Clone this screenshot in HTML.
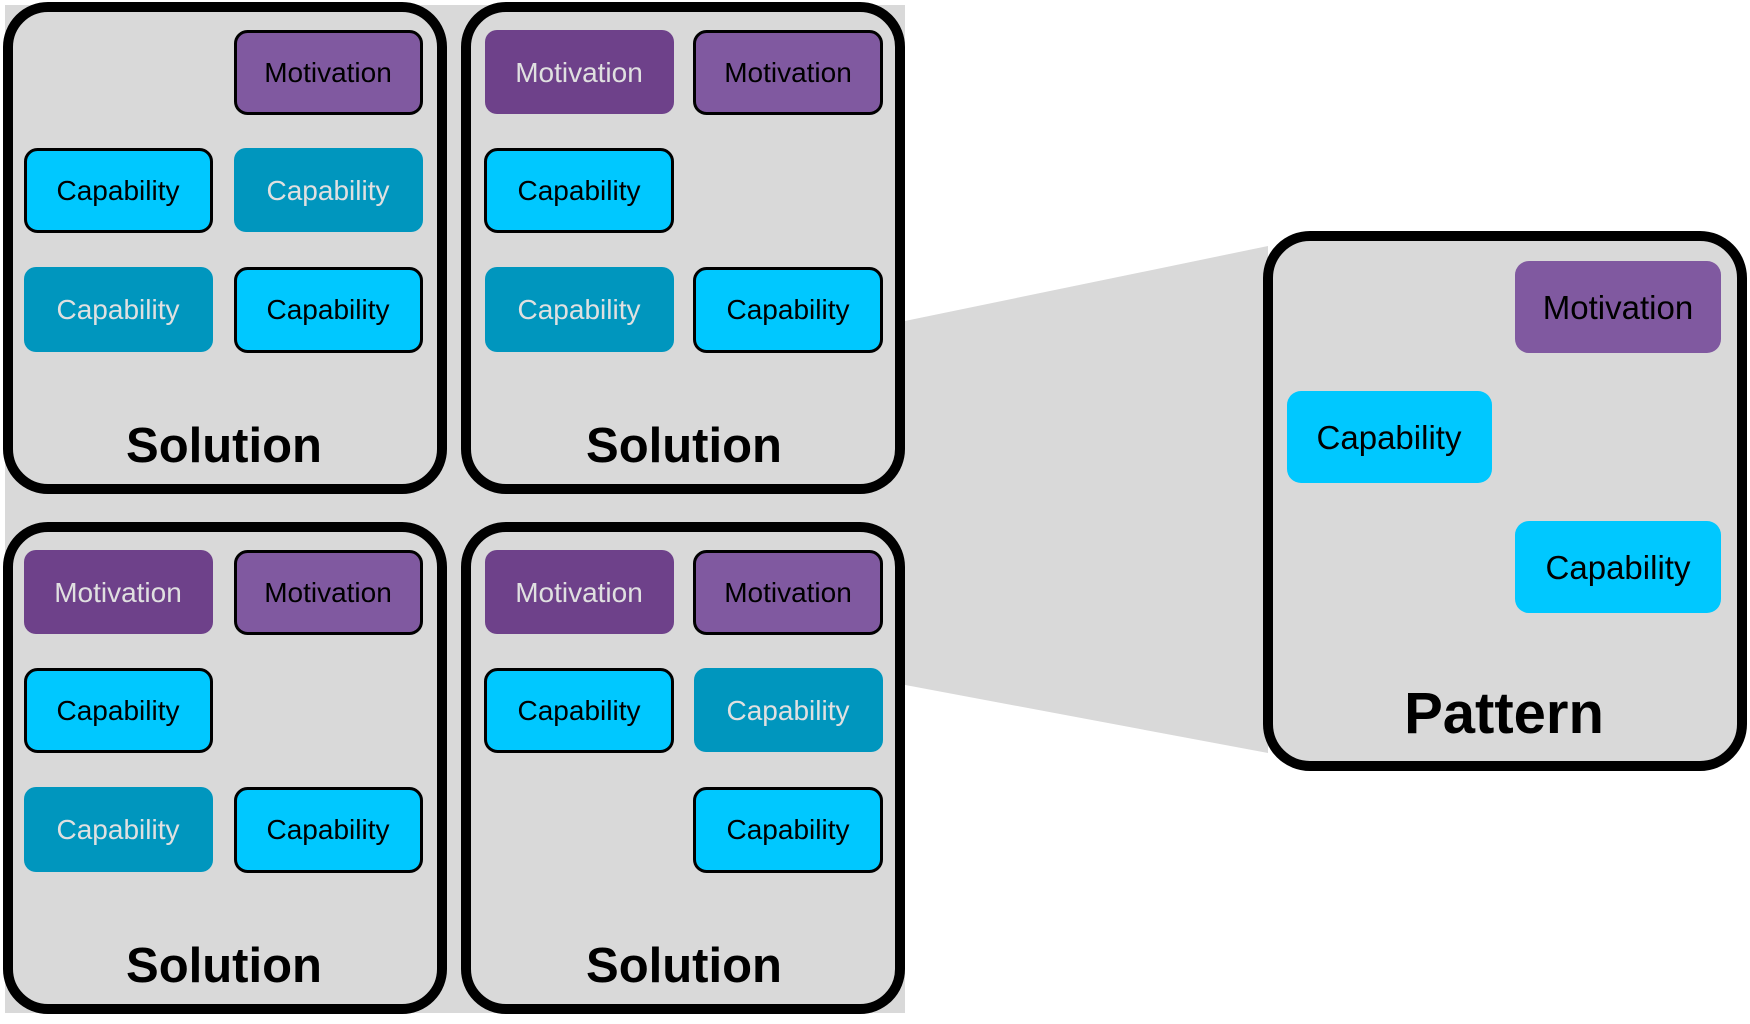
<!DOCTYPE html>
<html><head><meta charset="utf-8"><style>html,body{margin:0;padding:0;background:#fff}svg{display:block}</style></head><body>
<svg width="1750" height="1024" viewBox="0 0 1750 1024" xmlns="http://www.w3.org/2000/svg" font-family="Liberation Sans, sans-serif">
<rect x="5" y="5" width="900" height="1008" fill="#d9d9d9"/>
<polygon points="900,322 1268,246 1268,753 900,684" fill="#d9d9d9"/>
<defs>
<g id="p"><rect x="8" y="7" width="434" height="482" rx="40" fill="#d9d9d9" stroke="#000" stroke-width="10"/></g>
</defs>
<use href="#p"/><use href="#p" x="458"/><use href="#p" y="520"/><use href="#p" x="458" y="520"/>
<g font-size="28" text-anchor="middle">
<rect x="235.5" y="31.5" width="186" height="82" rx="12" fill="#8059a0" stroke="#000" stroke-width="3"/><text x="328" y="82">Motivation</text>
<rect x="25.5" y="149.5" width="186" height="82" rx="12" fill="#00c8ff" stroke="#000" stroke-width="3"/><text x="118" y="200">Capability</text>
<rect x="234" y="148" width="189" height="84" rx="12" fill="#0096be"/><text x="328" y="200" fill="#e0e0e0">Capability</text>
<rect x="24" y="267" width="189" height="85" rx="12" fill="#0096be"/><text x="118" y="319" fill="#e0e0e0">Capability</text>
<rect x="235.5" y="268.5" width="186" height="83" rx="12" fill="#00c8ff" stroke="#000" stroke-width="3"/><text x="328" y="319">Capability</text>
<rect x="485" y="30" width="189" height="84" rx="12" fill="#6e418a"/><text x="579" y="82" fill="#e0e0e0">Motivation</text>
<rect x="694.5" y="31.5" width="187" height="82" rx="12" fill="#8059a0" stroke="#000" stroke-width="3"/><text x="788" y="82">Motivation</text>
<rect x="485.5" y="149.5" width="187" height="82" rx="12" fill="#00c8ff" stroke="#000" stroke-width="3"/><text x="579" y="200">Capability</text>
<rect x="485" y="267" width="189" height="85" rx="12" fill="#0096be"/><text x="579" y="319" fill="#e0e0e0">Capability</text>
<rect x="694.5" y="268.5" width="187" height="83" rx="12" fill="#00c8ff" stroke="#000" stroke-width="3"/><text x="788" y="319">Capability</text>
<g transform="translate(0,-5)">
<rect x="24" y="555" width="189" height="84" rx="12" fill="#6e418a"/><text x="118" y="607" fill="#e0e0e0">Motivation</text>
<rect x="235.5" y="556.5" width="186" height="82" rx="12" fill="#8059a0" stroke="#000" stroke-width="3"/><text x="328" y="607">Motivation</text>
<rect x="25.5" y="674.5" width="186" height="82" rx="12" fill="#00c8ff" stroke="#000" stroke-width="3"/><text x="118" y="725">Capability</text>
<rect x="24" y="792" width="189" height="85" rx="12" fill="#0096be"/><text x="118" y="844" fill="#e0e0e0">Capability</text>
<rect x="235.5" y="793.5" width="186" height="83" rx="12" fill="#00c8ff" stroke="#000" stroke-width="3"/><text x="328" y="844">Capability</text>
<rect x="485" y="555" width="189" height="84" rx="12" fill="#6e418a"/><text x="579" y="607" fill="#e0e0e0">Motivation</text>
<rect x="694.5" y="556.5" width="187" height="82" rx="12" fill="#8059a0" stroke="#000" stroke-width="3"/><text x="788" y="607">Motivation</text>
<rect x="485.5" y="674.5" width="187" height="82" rx="12" fill="#00c8ff" stroke="#000" stroke-width="3"/><text x="579" y="725">Capability</text>
<rect x="694" y="673" width="189" height="84" rx="12" fill="#0096be"/><text x="788" y="725" fill="#e0e0e0">Capability</text>
<rect x="694.5" y="793.5" width="187" height="83" rx="12" fill="#00c8ff" stroke="#000" stroke-width="3"/><text x="788" y="844">Capability</text>
</g>
</g>
<g font-size="49" font-weight="bold" text-anchor="middle">
<text x="224" y="462">Solution</text><text x="684" y="462">Solution</text>
<text x="224" y="982">Solution</text><text x="684" y="982">Solution</text>
</g>
<rect x="1268" y="236" width="474" height="530" rx="42" fill="#d9d9d9" stroke="#000" stroke-width="10"/>
<g font-size="33" text-anchor="middle">
<rect x="1515" y="261" width="206" height="92" rx="14" fill="#8059a0"/><text x="1618" y="319">Motivation</text>
<rect x="1287" y="391" width="205" height="92" rx="14" fill="#00c8ff"/><text x="1389" y="449">Capability</text>
<rect x="1515" y="521" width="206" height="92" rx="14" fill="#00c8ff"/><text x="1618" y="579">Capability</text>
</g>
<text x="1504" y="733" font-size="58" font-weight="bold" text-anchor="middle">Pattern</text>
</svg>
</body></html>
